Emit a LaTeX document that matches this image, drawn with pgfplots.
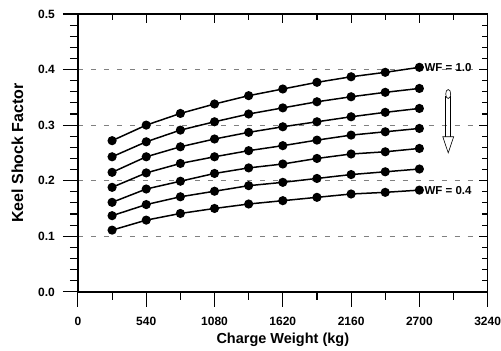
\documentclass[border=0pt]{standalone}
\usepackage{fontspec}
\setmainfont{Liberation Sans}
\usepackage{pgfplots}
\pgfplotsset{compat=1.18}
\usetikzlibrary{calc}
\pgfplotsset{wf/.style={black, solid, line width=1.5pt, mark=*, mark size=3.8pt, mark options={solid, fill=black}}}
\begin{document}
\begin{tikzpicture}
\begin{axis}[name=a, scale only axis, width=410pt, height=278pt,
 xmin=0, xmax=3240, ymin=0, ymax=0.5,
 axis line style={line width=1.3pt, black},
 xtick pos=left, ytick pos=left,
 tick align=outside, major tick length=15pt, minor tick length=8pt,
 every tick/.style={line width=1.1pt, black},
 xtick={0,540,1080,1620,2160,2700,3240}, minor x tick num=1,
 ytick={0,0.1,0.2,0.3,0.4,0.5}, minor y tick num=4,
 xticklabels={}, yticklabels={},
 xlabel={Charge Weight (kg)}, ylabel={Keel Shock Factor},
 xlabel style={font=\bfseries\fontsize{14.5}{16}\selectfont, at={(axis description cs:0.5,0)}, anchor=center, yshift=-48.4pt},
 ylabel style={font=\bfseries\fontsize{16}{18}\selectfont, at={(axis description cs:0,0.5)}, anchor=center, yshift=60.5pt},
 ymajorgrids, grid style={gray, dash pattern=on 5pt off 8pt, line width=0.6pt},
 clip=false,
]
\addplot[wf] coordinates {(270,0.272)(540,0.300)(810,0.321)(1080,0.338)(1350,0.353)(1620,0.365)(1890,0.377)(2160,0.387)(2430,0.395)(2700,0.404)};
\addplot[wf] coordinates {(270,0.243)(540,0.270)(810,0.291)(1080,0.306)(1350,0.320)(1620,0.331)(1890,0.342)(2160,0.351)(2430,0.359)(2700,0.366)};
\addplot[wf] coordinates {(270,0.215)(540,0.243)(810,0.261)(1080,0.275)(1350,0.287)(1620,0.297)(1890,0.306)(2160,0.315)(2430,0.323)(2700,0.330)};
\addplot[wf] coordinates {(270,0.188)(540,0.214)(810,0.231)(1080,0.243)(1350,0.254)(1620,0.263)(1890,0.273)(2160,0.282)(2430,0.288)(2700,0.294)};
\addplot[wf] coordinates {(270,0.161)(540,0.185)(810,0.199)(1080,0.213)(1350,0.223)(1620,0.230)(1890,0.240)(2160,0.248)(2430,0.252)(2700,0.258)};
\addplot[wf] coordinates {(270,0.137)(540,0.157)(810,0.171)(1080,0.181)(1350,0.191)(1620,0.197)(1890,0.204)(2160,0.211)(2430,0.216)(2700,0.221)};
\addplot[wf] coordinates {(270,0.111)(540,0.129)(810,0.141)(1080,0.150)(1350,0.158)(1620,0.164)(1890,0.170)(2160,0.176)(2430,0.179)(2700,0.183)};
\pgfplotsinvokeforeach{0,540,1080,1620,2160,2700,3240}{
 \node[font=\bfseries\fontsize{12}{14}\selectfont, anchor=base, inner sep=0pt, yshift=-34pt] at (axis cs:#1,0) {#1};
}
\pgfplotsinvokeforeach{0.0,0.1,0.2,0.3,0.4,0.5}{
 \node[font=\bfseries\fontsize{12}{14}\selectfont, anchor=base east, inner sep=0pt, xshift=-23pt, yshift=-4.3pt] at (axis cs:0,#1) {#1};
}
\node[anchor=west, font=\bfseries\fontsize{11.5}{13}\selectfont, inner sep=0pt, xshift=5pt] at (axis cs:2700,0.404) {WF = 1.0};
\node[anchor=west, font=\bfseries\fontsize{11.5}{13}\selectfont, inner sep=0pt, xshift=5pt] at (axis cs:2700,0.183) {WF = 0.4};
\draw[line width=0.6pt] (axis cs:2908,0.279) -- (axis cs:2908,0.352) (axis cs:2948,0.279) -- (axis cs:2948,0.352);
\draw[line width=0.6pt] (axis cs:2928,0.356) ellipse [x radius=2.5pt, y radius=4.5pt];
\draw[line width=0.6pt, fill=white] (axis cs:2885,0.279) -- (axis cs:2971,0.279) -- (axis cs:2928,0.250) -- cycle;
\draw[line width=1.5pt, black, solid, line cap=rect] (axis cs:0,0) -- (axis cs:0,0.5) -- (axis cs:3240,0.5) -- (axis cs:3240,0) -- cycle;
\end{axis}
\begin{axis}[at={(a.south west)}, anchor=south west, scale only axis, width=410pt, height=278pt,
 xmin=0, xmax=3240, ymin=0, ymax=0.5,
 axis line style={line width=1.3pt, black},
 xtick pos=right, ytick pos=right,
 tick align=inside, major tick length=9pt, minor tick length=6pt,
 every tick/.style={line width=1.1pt, black},
 xtick={0,540,1080,1620,2160,2700,3240}, minor x tick num=1,
 ytick={0,0.1,0.2,0.3,0.4,0.5}, minor y tick num=4,
 xticklabels={}, yticklabels={},
]
\end{axis}
\path ($(a.south west)+(-78pt,-55pt)$) rectangle ($(a.north east)+(13pt,14pt)$);
\end{tikzpicture}
\end{document}
